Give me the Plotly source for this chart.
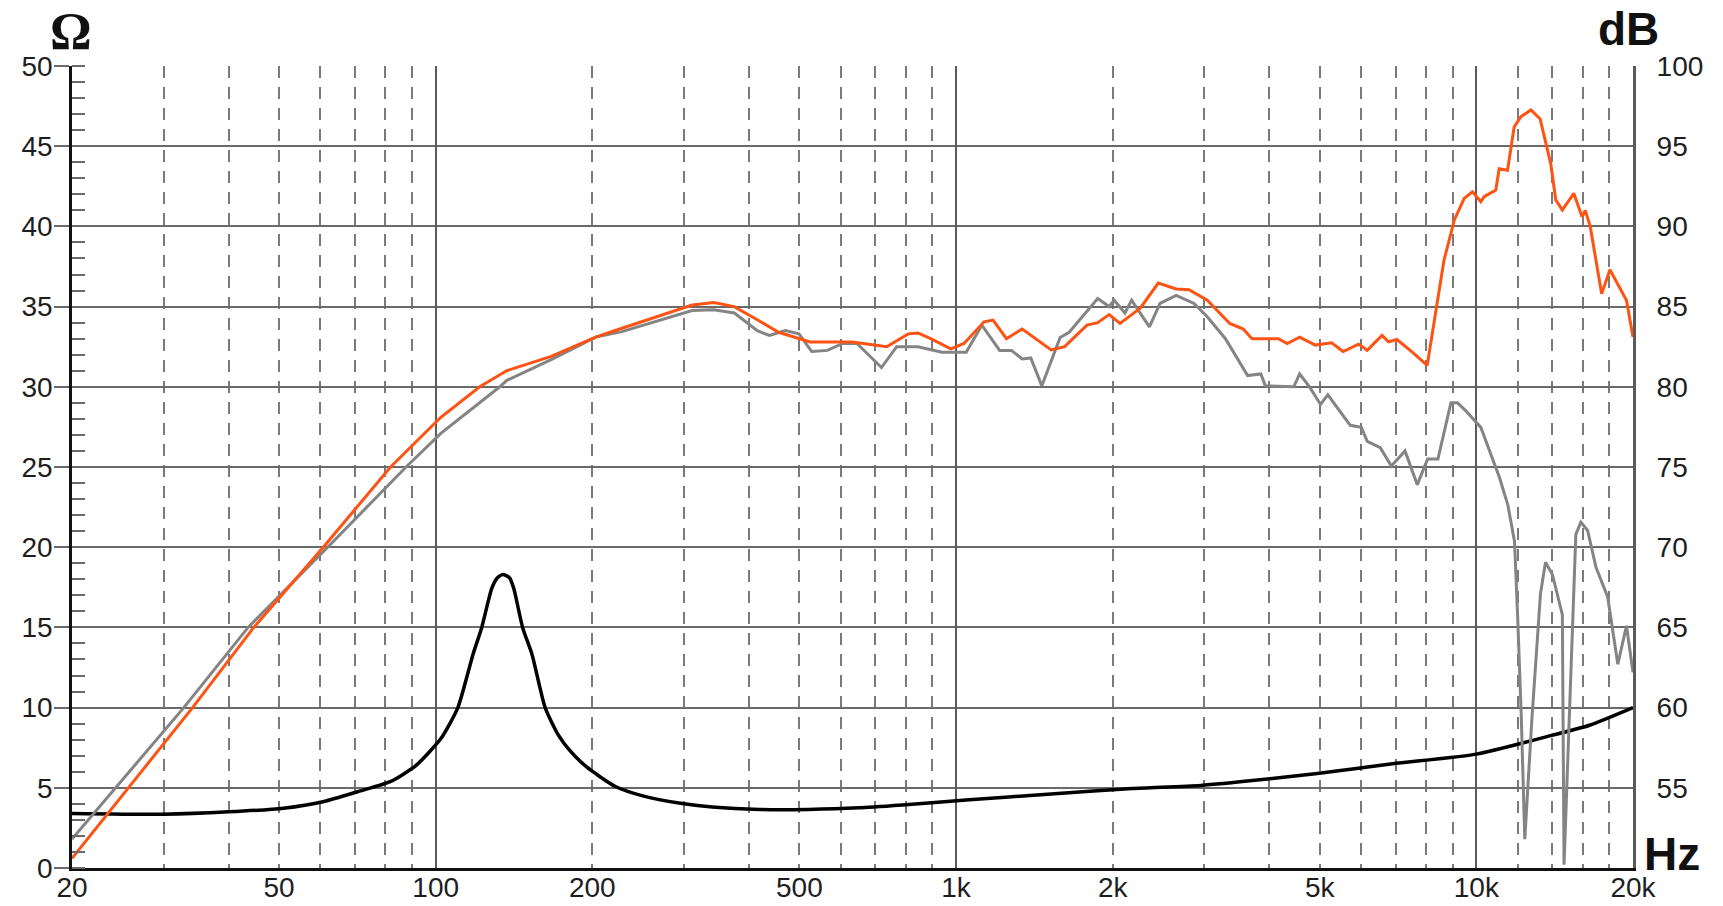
import math
import plotly.graph_objects as go

# ---------------- data ----------------
# Impedance curve (left axis, Ohm)
imp_freq = [20, 30, 40, 51, 61, 71, 82, 91.7, 102.5, 110.3, 117.9, 122.6, 128.2, 131.4,
            134.6, 138.6, 141.2, 146.9, 153.2, 162.3, 172, 181.3, 195, 221, 250, 300, 340,
            420, 520, 650, 800, 1060, 1500, 2180, 2950, 3840, 4900, 6900, 10000, 13900,
            16500, 20000]
imp_ohm = [3.4, 3.35, 3.5, 3.73, 4.15, 4.77, 5.4, 6.4, 8.1, 10.0, 13.3, 15.0, 17.45, 18.1,
           18.3, 18.1, 17.45, 15.0, 13.3, 10.0, 8.3, 7.3, 6.3, 5.1, 4.5, 4.0, 3.8,
           3.65, 3.65, 3.75, 3.95, 4.25, 4.6, 4.95, 5.15, 5.5, 5.88, 6.5, 7.1, 8.25,
           8.9, 10.0]

# On-axis SPL (right axis, dB) - orange
spl_on_freq = [20, 34.1, 44.7, 60.8, 81.9, 102.3, 121.5, 136.8, 166.7, 203, 228, 311,
               342.6, 374.6, 411, 456, 524, 632, 736, 809, 845, 894, 977, 1036, 1132,
               1178, 1250, 1340, 1524, 1617, 1785, 1872, 1969, 2066, 2260, 2447, 2649,
               2804, 3040, 3358, 3564, 3706, 4166, 4329, 4575, 4904, 5269, 5545, 5936,
               6170, 6586, 6781, 7035, 7520, 8045, 8400, 8667, 8935, 9070, 9475, 9829,
               10200, 10350, 10900, 11060, 11480, 11820, 12180, 12730, 13260, 13900,
               14210, 14630, 15390, 15960, 16190, 16550, 17410, 18060, 19430, 20000]
spl_on_db = [50.6, 60.0, 65.0, 70.0, 75.0, 78.1, 80.0, 81.0, 81.9, 83.1, 83.65, 85.1,
             85.25, 85.0, 84.26, 83.4, 82.8, 82.8, 82.5, 83.3, 83.36, 83.0, 82.37, 82.7, 84.05,
             84.16, 83.0, 83.6, 82.3, 82.5, 83.85, 84.0, 84.5, 83.95, 84.9, 86.47, 86.1,
             86.05, 85.4, 83.95, 83.6, 83.0, 83.0, 82.7, 83.1, 82.6, 82.74, 82.2, 82.66,
             82.28, 83.2, 82.8, 82.95, 82.18, 81.34, 85.2, 87.9, 89.57, 90.4, 91.75, 92.16,
             91.54, 91.85, 92.27, 93.6, 93.5, 96.2, 96.84, 97.26, 96.7, 93.9,
             91.65, 91.02, 92.06, 90.6, 91.0, 90.0, 85.8, 87.3, 85.4, 83.1]

# Off-axis SPL (right axis, dB) - grey
spl_off_freq = [20, 32.8, 43.6, 62, 87.7, 102.3, 132.8, 137, 166.7, 203, 228, 311,
                342, 375, 415, 438, 470, 499, 528, 566, 606, 645, 719, 769, 845, 939,
                1046, 1121, 1213, 1278, 1340, 1392, 1462, 1585, 1650, 1872, 1969, 2012,
                2112, 2175, 2353, 2466, 2649, 2866, 3040, 3294, 3634, 3853, 3930, 4457,
                4575, 4783, 5018, 5183, 5723, 6010, 6170, 6537, 6864, 7293, 7700, 8060,
                8436, 8935, 9200, 9545, 10200, 10820, 11080, 11490, 11840, 12010, 12200,
                12390, 12780, 13280, 13580, 14000, 14630, 14740, 15190, 15530, 15880,
                16360, 16980, 17880, 18700, 19430, 20000]
spl_off_db = [51.8, 60.0, 65.0, 70.0, 75.0, 77.1, 80.0, 80.4, 81.7, 83.1, 83.44, 84.75,
              84.8, 84.6, 83.5, 83.2, 83.5, 83.3, 82.2, 82.27, 82.7, 82.7, 81.2, 82.5, 82.5, 82.16,
              82.16, 83.84, 82.27, 82.27, 81.74, 81.8, 80.06, 83.07, 83.4, 85.5, 85.0, 85.4,
              84.6, 85.4, 83.74, 85.2, 85.7, 85.2, 84.37, 83.0, 80.7, 80.8, 80.06, 80.0,
              80.8, 79.98, 78.9, 79.5, 77.6, 77.47, 76.6, 76.2, 75.06, 76.0, 73.9, 75.5,
              75.5, 79.0, 79.0, 78.5, 77.47, 75.27, 74.33, 72.66, 70.36, 65.5, 59.4,
              51.8, 59.2, 67.1, 69.06, 68.3, 65.8, 50.2, 62.5, 70.8, 71.56,
              71.04, 68.75, 66.9, 62.7, 65.1, 62.2]

# Axis ticks
x_tick_vals = [20, 50, 100, 200, 500, 1000, 2000, 5000, 10000, 20000]
x_tick_text = ["20", "50", "100", "200", "500", "1k", "2k", "5k", "10k", "20k"]
x_decade_lines = [100, 1000, 10000]
x_dashed_lines = [30, 40, 50, 60, 70, 80, 90,
                  200, 300, 400, 500, 600, 700, 800, 900,
                  2000, 3000, 4000, 5000, 6000, 7000, 8000, 9000,
                  12000, 14000, 16000, 18000]
ohm_ticks = [0, 5, 10, 15, 20, 25, 30, 35, 40, 45, 50]
db_ticks = [55, 60, 65, 70, 75, 80, 85, 90, 95, 100]

# ---------------- figure ----------------
W, H = 1723, 906
ML, MR, MT, MB = 72, 90, 66, 38
xr = [math.log10(20), math.log10(20000)]
tick_font = dict(family="Liberation Sans, Arial, sans-serif", size=28, color="#1e1e1e")

fig = go.Figure()
fig.add_trace(go.Scatter(
    x=imp_freq, y=imp_ohm, mode="lines", xaxis="x", yaxis="y",
    line=dict(color="#000000", width=3.5, shape="spline", smoothing=0.6),
    hoverinfo="skip", showlegend=False))
fig.add_trace(go.Scatter(
    x=spl_off_freq, y=spl_off_db, mode="lines", xaxis="x2", yaxis="y2",
    line=dict(color="#848484", width=3), hoverinfo="skip", showlegend=False))
fig.add_trace(go.Scatter(
    x=spl_on_freq, y=spl_on_db, mode="lines", xaxis="x2", yaxis="y2",
    line=dict(color="#FF5314", width=3), hoverinfo="skip", showlegend=False))

fig.update_layout(
    width=W, height=H,
    margin=dict(l=ML, r=MR, t=MT, b=MB, pad=0, autoexpand=False),
    paper_bgcolor="white", plot_bgcolor="white",
    showlegend=False,
    xaxis=dict(
        type="log", range=xr, tickmode="array", tickvals=x_tick_vals, ticktext=x_tick_text,
        showgrid=False, zeroline=False, showline=True, linecolor="#111111", linewidth=2.5,
        ticks="", tickfont=tick_font, ticklabelstandoff=-7, automargin=False,
        minor=dict(tickmode="array", tickvals=x_dashed_lines, showgrid=True,
                   gridcolor="#7a7a7a", gridwidth=2, griddash="12px,9px", ticks=""),
        fixedrange=True,
    ),
    xaxis2=dict(
        type="log", range=xr, overlaying="x", anchor="y2", tickmode="array",
        tickvals=x_decade_lines, showticklabels=False, showgrid=True,
        gridcolor="#5a5a5a", gridwidth=2, zeroline=False, showline=False, ticks="",
        automargin=False, fixedrange=True,
    ),
    yaxis=dict(
        range=[0, 50], tickmode="array", tickvals=ohm_ticks, showgrid=True,
        gridcolor="#6a6a6a", gridwidth=2, zeroline=False, showline=True,
        linecolor="#111111", linewidth=2.5, ticks="outside", ticklen=15, tickwidth=2,
        tickcolor="#6a6a6a", tickfont=tick_font, ticklabelstandoff=-4, automargin=False,
        minor=dict(dtick=1, ticks="inside", ticklen=13, tickwidth=2, tickcolor="#6a6a6a",
                   showgrid=False),
        fixedrange=True,
    ),
    yaxis2=dict(
        range=[50, 100], overlaying="y", side="right", anchor="x2", tickmode="array",
        tickvals=db_ticks, showgrid=False, zeroline=False, showline=True,
        linecolor="#5a5a5a", linewidth=3, ticks="", tickfont=tick_font,
        ticklabelstandoff=15, automargin=False, fixedrange=True,
    ),
    annotations=[
        dict(text="<b>Ω</b>", xref="paper", yref="paper", x=-0.0006, y=1.0424,
             xanchor="center", yanchor="middle", showarrow=False,
             font=dict(family="Liberation Serif, Times New Roman, serif", size=52, color="#111111")),
        dict(text="<b>dB</b>", xref="paper", yref="paper", x=0.9974, y=1.0461,
             xanchor="center", yanchor="middle", showarrow=False,
             font=dict(family="Liberation Sans, Arial, sans-serif", size=46, color="#111111")),
        dict(text="<b>Hz</b>", xref="paper", yref="paper", x=1.0250, y=0.017,
             xanchor="center", yanchor="middle", showarrow=False,
             font=dict(family="Liberation Sans, Arial, sans-serif", size=46, color="#111111")),
    ],
)

fig.write_html("out.html", include_plotlyjs=True, config={"displayModeBar": False},
               post_script="document.body.style.margin='0';document.body.style.overflow='hidden';")
